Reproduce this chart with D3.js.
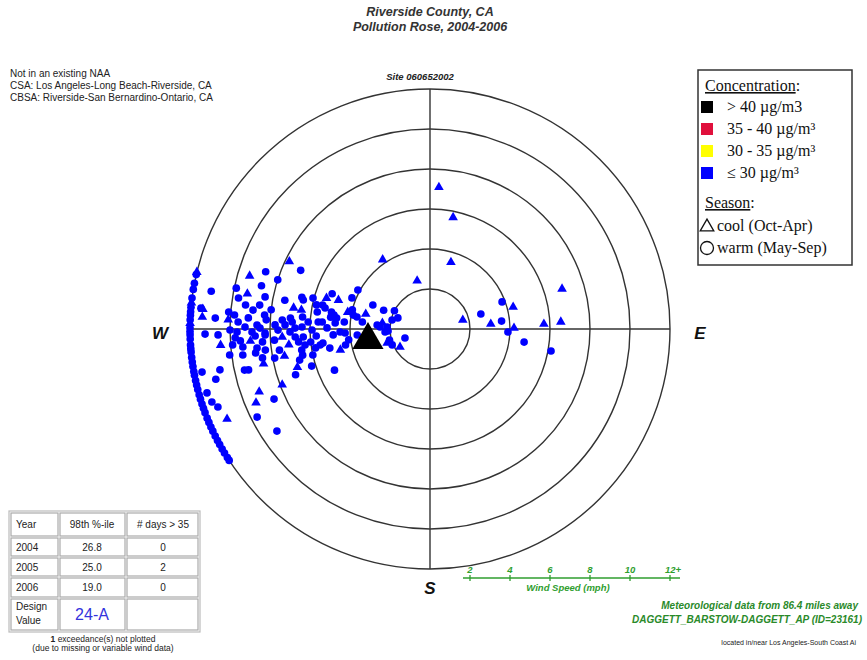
<!DOCTYPE html>
<html>
<head>
<meta charset="utf-8">
<script src="https://cdn.jsdelivr.net/npm/d3@7"></script>
<style>
  body { margin: 0; background: #fff; }
  svg { display: block; font-family: "Liberation Sans", Arial, sans-serif; }
</style>
</head>
<body>
<svg id="chart" width="867" height="660"></svg>
<script>
// wind direction (deg, clockwise from N), speed (mph), season (c = cool, w = warm)
const windDir = [
  283.1, 279.8, 275.2, 275.0, 273.0, 268.7, 268.4, 286.4, 284.4, 287.9, 295.6, 280.9, 279.2, 281.0, 281.2,
  283.9, 282.9, 284.8, 278.0, 276.1, 274.8, 274.1, 273.5, 274.8, 273.2, 273.5, 274.5, 272.9, 278.4, 275.4,
  273.3, 282.0, 278.6, 272.6, 269.7, 269.1, 270.6, 271.3, 270.3, 268.6, 269.0, 271.5, 269.6, 271.6, 270.4,
  270.9, 269.5, 267.4, 266.4, 266.2, 265.6, 267.9, 265.9, 266.9, 266.6, 264.4, 266.4, 263.8, 265.4, 264.5,
  263.7, 262.7, 262.0, 263.6, 260.7, 262.7, 260.6, 325.7, 345.1, 286.6, 289.8, 287.5, 291.7, 298.4, 282.6,
  279.8, 276.8, 278.3, 281.6, 283.9, 280.3, 279.3, 292.8, 292.0, 297.2, 273.7, 273.6, 270.6, 266.5, 268.1,
  267.3, 265.3, 274.3, 272.3, 277.1, 272.7, 266.2, 267.3, 283.3, 254.6, 252.0, 247.2, 239.0, 262.5, 259.2,
  259.3, 3.6, 11.7, 17.4, 73.1, 69.4, 75.2, 73.6, 74.7, 85.3, 83.7, 92.2, 89.3, 87.5, 86.9,
  97.9, 100.3, 259.3, 259.0, 256.8, 254.0, 251.5, 249.8, 246.1, 262.1, 262.2, 257.5, 257.3, 258.2, 249.8,
  247.0, 243.0, 245.8, 236.3, 259.4, 259.5, 253.9, 251.2, 252.6, 258.4, 257.5,
  281.3, 276.7, 274.7, 275.9, 283.2, 273.6, 266.5, 262.4, 256.9, 277.4, 276.9, 278.8, 272.1, 267.7, 268.8,
  261.7, 262.6, 260.2, 256.6, 289.2, 294.4, 281.9, 272.9, 265.6, 289.0, 250.2, 246.7, 249.3
];
const windSpeed = [
  12, 11.1, 11.5, 11.4, 11.4, 11.25, 10.6, 9.4, 8.7, 8.0, 7.8, 9.3, 9.7, 8.4, 7.4,
  6.6, 6.5, 6.05, 8.6, 8.9, 10.1, 9.8, 9.1, 8.3, 8.2, 7.4, 7.0, 6.9, 6.5, 6.4,
  6.1, 5.8, 5.7, 10.1, 10.0, 9.65, 9.25, 8.65, 8.5, 8.25, 8.9, 7.75, 7.6, 7.25, 6.75,
  6.4, 5.9, 9.75, 9.5, 9.0, 8.4, 8.25, 7.8, 7.4, 6.75, 6.6, 6.35, 6.0, 9.9, 9.4,
  8.7, 8.3, 7.6, 7.1, 6.5, 6.3, 5.8, 4.2, 2.5, 5.4, 5.2, 4.8, 4.2, 4.1, 5.5,
  5.0, 5.0, 4.85, 4.2, 4.0, 3.9, 3.7, 3.1, 2.5, 2.0, 5.4, 4.75, 5.15, 4.85, 4.5,
  4.25, 3.65, 2.65, 2.5, 2.4, 2.15, 2.25, 2.1, 1.95, 2.1, 2.25, 2.05, 1.75, 5.4, 5.1,
  4.3, 7.1, 5.7, 3.5, 6.9, 3.85, 4.3, 2.65, 1.7, 3.05, 3.6, 3.9, 4.2, 5.7, 6.55,
  4.75, 6.15, 11.6, 10.7, 11.0, 11.6, 11.5, 11.3, 11.1, 9.45, 8.8, 9.5, 9.3, 8.5, 9.1,
  9.45, 9.7, 8.55, 9.2, 7.9, 7.4, 6.9, 7.1, 6.2, 6.5, 6.0,
  5.35, 4.7, 4.3, 3.4, 3.3, 5.6, 5.7, 4.1, 4.6, 9.3, 8.0, 6.9, 9.6, 8.75, 7.0,
  5.55, 10.1, 8.5, 6.7, 8.7, 7.1, 9.9, 10.75, 10.5, 1.7, 1.33, 5.2, 7.9
];
const season = [
  "w","w","w","c","c","w","w","c","w","w","c","c","w","w","w",
  "w","w","w","w","w","w","w","w","w","w","w","w","w","c","w",
  "w","w","w","c","w","w","w","w","w","w","w","w","w","w","w",
  "w","w","w","w","c","w","w","w","c","w","w","w","w","w","w",
  "w","w","w","c","w","w","w","c","c","c","w","c","w","w","w",
  "w","w","w","c","w","w","w","w","w","w","w","w","w","w","w",
  "w","w","w","w","c","w","w","w","w","w","c","w","c","w","w",
  "w","c","c","c","c","w","c","w","c","c","w","w","c","c","c",
  "w","w","w","w","w","w","w","w","c","w","w","w","w","c","c",
  "c","w","w","w","w","c","c","w","w","w","w",
  "w","w","w","w","c","w","w","w","c","w","w","c","w","w","w",
  "w","w","w","w","w","w","w","w","c","w","w","w","c"
];
// 12+ mph days sit on the outer ring
const rimDir = [
  283.7, 281.0, 279.5, 277.4, 276.3, 275.2, 274.1, 273.3, 272.2, 271.4, 270.3, 269.4, 268.6, 267.6, 266.2,
  265.3, 264.5, 263.2, 262.1, 261.0, 259.8, 258.9, 257.6, 256.5, 255.4, 254.1, 253.0, 251.8, 250.7, 249.6,
  248.2, 247.1, 245.9, 244.8, 243.5, 242.3, 241.2, 240.0, 238.9, 237.6, 236.8
];
const rimSeason = [
  "c","w","w","w","c","w","w","w","w","c","w","w","w","w","w",
  "w","w","w","w","w","w","w","w","w","w","w","w","w","w","w",
  "w","w","w","w","w","w","w","w","w","w","w"
];
// > 40 ug/m3 day
const highDir = [259.9];
const highSpeed = [3.15];

const speedRings = [2, 4, 6, 8, 10, 12];
const windTicks = [2, 4, 6, 8, 10, 12];

const tableYears = ["2004", "2005", "2006"];
const tablePct = ["26.8", "25.0", "19.0"];
const tableDays = ["0", "2", "0"];

const legendConc = [
  { label: "> 40 \u00b5g/m3", color: "#000000" },
  { label: "35 - 40 \u00b5g/m\u00b3", color: "#e0103c" },
  { label: "30 - 35 \u00b5g/m\u00b3", color: "#ffff00" },
  { label: "\u2264 30 \u00b5g/m\u00b3", color: "#0000ff" }
];

const svg = d3.select("#chart");
const cx = 430, cy = 329;
const r = d3.scaleLinear().domain([0, 12]).range([0, 240]).clamp(true);
const rad = d => d * Math.PI / 180;
const px = (dir, s) => cx + r(s) * Math.sin(rad(dir));
const py = (dir, s) => cy - r(s) * Math.cos(rad(dir));

// titles
svg.append("text").attr("x", 430).attr("y", 16).attr("text-anchor", "middle")
  .attr("font-size", 12.5).attr("font-weight", "bold").attr("font-style", "italic").attr("fill", "#333")
  .text("Riverside County, CA");
svg.append("text").attr("x", 430).attr("y", 30.5).attr("text-anchor", "middle")
  .attr("font-size", 12.5).attr("font-weight", "bold").attr("font-style", "italic").attr("fill", "#333")
  .text("Pollution Rose, 2004-2006");

["Not in an existing NAA", "CSA: Los Angeles-Long Beach-Riverside, CA", "CBSA: Riverside-San Bernardino-Ontario, CA"]
  .forEach((t, i) => {
    svg.append("text").attr("x", 10).attr("y", 77 + i * 12).attr("font-size", 10).attr("fill", "#222").text(t);
  });

svg.append("text").attr("x", 420).attr("y", 80).attr("text-anchor", "middle")
  .attr("font-size", 9.5).attr("font-weight", "bold").attr("font-style", "italic").attr("fill", "#222")
  .text("Site 060652002");

// rose grid
const grid = svg.append("g").attr("fill", "none").attr("stroke", "#333").attr("stroke-width", 1.4);
grid.selectAll("circle").data(speedRings).join("circle")
  .attr("cx", cx).attr("cy", cy).attr("r", d => r(d));
grid.append("line").attr("x1", cx - r(12)).attr("x2", cx + r(12)).attr("y1", cy).attr("y2", cy);
grid.append("line").attr("x1", cx).attr("x2", cx).attr("y1", cy - r(12)).attr("y2", cy + r(12));

const compass = svg.append("g").attr("font-size", 17).attr("font-weight", "bold")
  .attr("font-style", "italic").attr("fill", "#111").attr("text-anchor", "middle");
compass.append("text").attr("x", 160).attr("y", 339).text("W");
compass.append("text").attr("x", 700).attr("y", 339).text("E");
compass.append("text").attr("x", 430).attr("y", 594).text("S");

// points
const points = windDir.map((d, i) => ({ dir: d, speed: windSpeed[i], season: season[i] }))
  .concat(rimDir.map((d, i) => ({ dir: d, speed: 12, season: rimSeason[i] })));
const tri = d3.symbol().type(d3.symbolTriangle).size(40);
const dot = d3.symbol().type(d3.symbolCircle).size(46);
svg.append("g").selectAll("path").data(points).join("path")
  .attr("d", d => d.season === "c" ? tri() : dot())
  .attr("transform", d => `translate(${px(d.dir, d.speed)},${py(d.dir, d.speed)})`)
  .attr("fill", "#0000ff");

svg.append("g").selectAll("path").data(highDir.map((d, i) => ({ dir: d, speed: highSpeed[i] }))).join("path")
  .attr("d", d3.symbol().type(d3.symbolTriangle).size(420)())
  .attr("transform", d => `translate(${px(d.dir, d.speed)},${py(d.dir, d.speed)})`)
  .attr("fill", "#000");

// legend
const lg = svg.append("g").attr("font-family", "'Liberation Serif', 'Times New Roman', serif").attr("font-size", 16).attr("fill", "#111");
lg.append("rect").attr("x", 698).attr("y", 70).attr("width", 154).attr("height", 195)
  .attr("fill", "#fff").attr("stroke", "#333").attr("stroke-width", 1.5);
const t1 = lg.append("text").attr("x", 705).attr("y", 91);
t1.append("tspan").attr("text-decoration", "underline").text("Concentration");
t1.append("tspan").text(":");
legendConc.forEach((d, i) => {
  const y = 107 + i * 22;
  lg.append("rect").attr("x", 701).attr("y", y - 6).attr("width", 12).attr("height", 12).attr("fill", d.color);
  lg.append("text").attr("x", 727).attr("y", y + 5).text(d.label);
});
const t2 = lg.append("text").attr("x", 705).attr("y", 208);
t2.append("tspan").attr("text-decoration", "underline").text("Season");
t2.append("tspan").text(":");
lg.append("path").attr("d", d3.symbol().type(d3.symbolTriangle).size(80)())
  .attr("transform", "translate(707,227)").attr("fill", "none").attr("stroke", "#111").attr("stroke-width", 1.3);
lg.append("text").attr("x", 717).attr("y", 231).text("cool (Oct-Apr)");
lg.append("circle").attr("cx", 707).attr("cy", 248).attr("r", 6.5)
  .attr("fill", "none").attr("stroke", "#111").attr("stroke-width", 1.3);
lg.append("text").attr("x", 717).attr("y", 253).text("warm (May-Sep)");

// summary table
const colX = [10, 59, 126, 199];
const rowY = [512, 537, 557, 577, 598, 631];
const tb = svg.append("g").attr("font-size", 10).attr("fill", "#222");
for (let i = 0; i < rowY.length - 1; i++) {
  for (let j = 0; j < colX.length - 1; j++) {
    tb.append("rect").attr("x", colX[j] + 1).attr("y", rowY[i] + 1)
      .attr("width", colX[j + 1] - colX[j] - 2).attr("height", rowY[i + 1] - rowY[i] - 2)
      .attr("fill", "#fff").attr("stroke", "#aaa").attr("stroke-width", 1.2);
  }
}
tb.append("rect").attr("x", colX[0] - 1).attr("y", rowY[0] - 1)
  .attr("width", colX[3] - colX[0] + 2).attr("height", rowY[5] - rowY[0] + 2)
  .attr("fill", "none").attr("stroke", "#bbb").attr("stroke-width", 1.2);
const midY = i => (rowY[i] + rowY[i + 1]) / 2 + 3.5;
tb.append("text").attr("x", 16).attr("y", midY(0)).text("Year");
tb.append("text").attr("x", 92).attr("y", midY(0)).attr("text-anchor", "middle").text("98th %-ile");
tb.append("text").attr("x", 163).attr("y", midY(0)).attr("text-anchor", "middle").text("# days > 35");
tableYears.forEach((y, i) => {
  tb.append("text").attr("x", 16).attr("y", midY(i + 1)).text(y);
  tb.append("text").attr("x", 92).attr("y", midY(i + 1)).attr("text-anchor", "middle").text(tablePct[i]);
  tb.append("text").attr("x", 163).attr("y", midY(i + 1)).attr("text-anchor", "middle").text(tableDays[i]);
});
tb.append("text").attr("x", 16).attr("y", 610).text("Design");
tb.append("text").attr("x", 16).attr("y", 624).text("Value");
tb.append("text").attr("x", 92).attr("y", 620).attr("text-anchor", "middle")
  .attr("font-size", 16).attr("fill", "#3333dd").text("24-A");
svg.append("text").attr("x", 103).attr("y", 642).attr("text-anchor", "middle").attr("font-size", 8.5).attr("fill", "#222")
  .html("<tspan font-weight='bold'>1</tspan> exceedance(s) not plotted");
svg.append("text").attr("x", 103).attr("y", 651).attr("text-anchor", "middle").attr("font-size", 8.5).attr("fill", "#222")
  .text("(due to missing or variable wind data)");

// wind speed scale
const green = "#2f9e2f";
const ws = d3.scaleLinear().domain([0, 12]).range([cx, cx + r(12)]);
const wg = svg.append("g").attr("fill", green).attr("font-style", "italic").attr("font-weight", "bold").attr("font-size", 9.5);
wg.append("line").attr("x1", 463).attr("x2", 680).attr("y1", 578).attr("y2", 578)
  .attr("stroke", green).attr("stroke-width", 1.5);
wg.selectAll("line.tick").data(windTicks).join("line").attr("class", "tick")
  .attr("x1", d => ws(d)).attr("x2", d => ws(d)).attr("y1", 575).attr("y2", 581)
  .attr("stroke", green).attr("stroke-width", 1.3);
wg.selectAll("text.tl").data(windTicks).join("text").attr("class", "tl")
  .attr("x", d => ws(d) + (d === 12 ? 3 : 0)).attr("y", 573).attr("text-anchor", "middle")
  .text(d => d === 12 ? "12+" : d);
wg.append("text").attr("x", 568).attr("y", 591).attr("text-anchor", "middle").text("Wind Speed (mph)");

const mg = svg.append("g").attr("fill", "#2a8a2a").attr("font-style", "italic").attr("font-weight", "bold")
  .attr("font-size", 10).attr("text-anchor", "end");
mg.append("text").attr("x", 858).attr("y", 609).text("Meteorological data from 86.4 miles away");
mg.append("text").attr("x", 862).attr("y", 623).text("DAGGETT_BARSTOW-DAGGETT_AP (ID=23161)");
svg.append("text").attr("x", 856).attr("y", 645).attr("text-anchor", "end").attr("font-size", 7).attr("fill", "#222")
  .text("located in/near Los Angeles-South Coast Ai");
</script>
</body>
</html>
